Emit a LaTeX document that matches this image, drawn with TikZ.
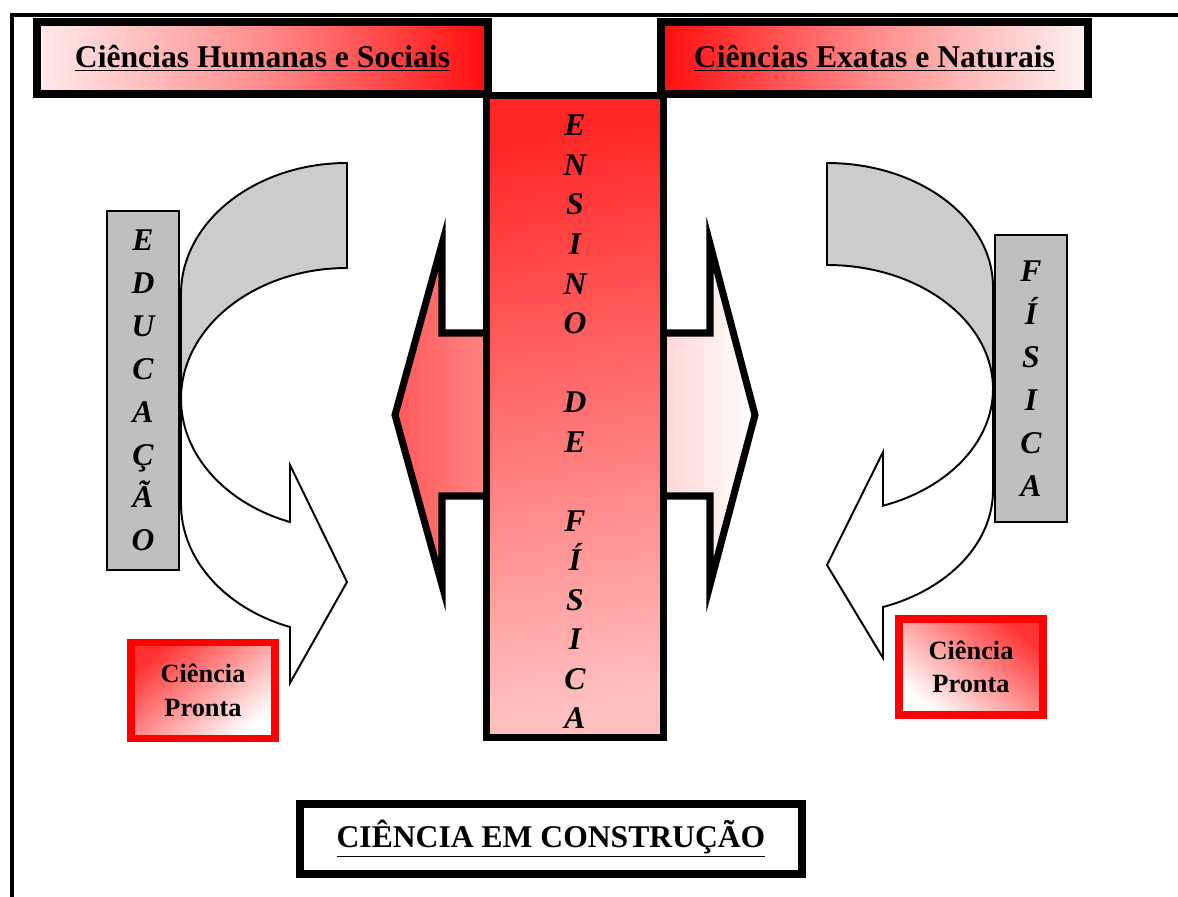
\documentclass[tikz,border=0pt]{standalone}
\usepackage{fontspec}
\setmainfont{Liberation Serif}
\usetikzlibrary{positioning}

\begin{document}
\begin{tikzpicture}[
    x=0.02cm, y=-0.02cm,
    line join=miter,
    heavybox/.style={
      draw,
      line width=4.5pt,
      minimum height=1.44cm,
      inner sep=0pt,
      font=\fontsize{18}{22}\selectfont\bfseries
    },
    graybox/.style={
      draw,
      fill=gray!50,
      line width=0.9pt,
      minimum width=1.44cm,
      inner sep=0pt,
      align=center,
      font=\fontsize{18}{24.4}\selectfont\bfseries\itshape
    },
    pronta/.style={
      draw=red,
      line width=4.5pt,
      minimum width=2.88cm,
      minimum height=1.92cm,
      inner sep=0pt,
      align=center,
      font=\fontsize{15}{19}\selectfont\bfseries
    },
    backband/.style={draw, fill=black!20, line width=1.1pt},
    frontband/.style={draw, fill=white, line width=1.1pt}
]
  \useasboundingbox (0,0) rectangle (1178,897);

  % Outer frame
  \draw[line width=2.2pt] (1178,15) -- (12,15) -- (12,897);

  % Curved arrow, left side
  \draw[backband] (347,163) arc[start angle=270, end angle=180, x radius=166, y radius=131]
    -- (181,399) arc[start angle=180, end angle=270, x radius=166, y radius=131] -- cycle;
  \draw[frontband] (181,399) arc[start angle=180, end angle=110.08, x radius=166, y radius=131]
    -- (290,465) -- (347,582) -- (290,683) -- (290,627)
    arc[start angle=110.08, end angle=180, x radius=166, y radius=131] -- cycle;

  % Curved arrow, right side
  \draw[backband] (827,163) arc[start angle=270, end angle=360, x radius=166, y radius=124]
    -- (993,389) arc[start angle=0, end angle=-90, x radius=166, y radius=124] -- cycle;
  \draw[frontband] (993,389) arc[start angle=0, end angle=70.29, x radius=166, y radius=124]
    -- (883,452) -- (827,565) -- (883,658) -- (883,607)
    arc[start angle=70.29, end angle=0, x radius=166, y radius=124] -- cycle;

  % Gray side labels
  \node[graybox, minimum height=7.18cm] (educ) at (143,390.5) {E\\D\\U\\C\\A\\Ç\\Ã\\O};
  \node[graybox, minimum height=5.74cm] (fis) at (1031,378.5) {F\\Í\\S\\I\\C\\A};

  % Double arrow behind the bar
  \draw[line width=4pt, left color=red!65, right color=white]
    (395,415) -- (442,244) -- (442,333) -- (710,333) -- (710,244) -- (755,415)
    -- (710,585) -- (710,496) -- (442,496) -- (442,585) -- cycle;

  % Central bar
  \node[draw, line width=4pt, top color=red!85, bottom color=red!25, shading angle=10,
        minimum width=3.54cm, minimum height=12.84cm] (ensino) at (575,416.5) {};
  \node[align=center, inner sep=0pt, font=\fontsize{18}{22.5}\selectfont\bfseries\itshape]
    (ensinoTxt) at (575,422) {E\\N\\S\\I\\N\\O\\~\\D\\E\\~\\F\\Í\\S\\I\\C\\A};

  % Top boxes
  \node[heavybox, minimum width=9.02cm, left color=red!8, right color=red!95, middle color=red!45]
    (humanas) at (262.5,58) {\underline{Ciências Humanas e Sociais}};
  \node[heavybox, minimum width=8.54cm, left color=red!95, right color=red!5, middle color=red!45]
    (exatas) at (874.5,58) {\underline{Ciências Exatas e Naturais}};

  % Ready science boxes
  \node[pronta, top color=red!80, bottom color=white, shading angle=40]
    (prontaE) at (203,690.5) {Ciência\\Pronta};
  \node[pronta, top color=red!80, bottom color=white, shading angle=-40]
    (prontaD) at (971,667) {Ciência\\Pronta};

  % Bottom box
  \node[heavybox, fill=white, minimum width=10.04cm, minimum height=1.4cm]
    (construcao) at (551,839) {\underline{CIÊNCIA EM CONSTRUÇÃO}};
\end{tikzpicture}
\end{document}
